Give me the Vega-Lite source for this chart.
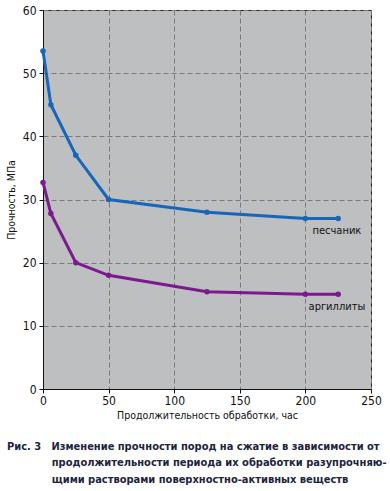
{
  "$schema": "https://vega.github.io/schema/vega-lite/v6.json",
  "width": 328,
  "height": 379,
  "autosize": {"type": "none"},
  "padding": {"left": 43, "top": 10, "right": 19, "bottom": 102},
  "background": "white",
  "config": {
    "view": {"fill": "#bebfc1", "stroke": "#222222", "strokeWidth": 1},
    "font": "DejaVu Sans Condensed",
    "axis": {
      "labelFont": "DejaVu Sans Condensed",
      "titleFont": "DejaVu Sans Condensed",
      "labelFontSize": 12,
      "titleFontSize": 10.5,
      "labelColor": "#111111",
      "titleColor": "#111111",
      "titleFontWeight": "normal",
      "domainColor": "#111111",
      "tickColor": "#111111",
      "tickSize": 4,
      "gridColor": "#7a7a7a",
      "gridDash": [5, 3],
      "gridWidth": 1
    }
  },
  "title": {
    "text": [
      "Рис. 3\u00a0\u00a0\u00a0Изменение прочности пород на сжатие в зависимости от",
      "\u200b\u00a0\u00a0\u00a0\u00a0\u00a0\u00a0\u00a0\u00a0\u00a0\u00a0\u00a0\u00a0\u00a0продолжительности периода их обработки разупрочняю-",
      "\u200b\u00a0\u00a0\u00a0\u00a0\u00a0\u00a0\u00a0\u00a0\u00a0\u00a0\u00a0\u00a0\u00a0щими растворами поверхностно-активных веществ"
    ],
    "orient": "bottom",
    "anchor": "start",
    "frame": "group",
    "dx": -36,
    "offset": 20,
    "font": "DejaVu Sans Condensed",
    "fontSize": 11,
    "fontWeight": "bold",
    "color": "#1c2440",
    "lineHeight": 16.5
  },
  "datasets": {
    "series": [
      {"t": 0, "v": 53.5, "rock": "песчаник"},
      {"t": 6, "v": 45, "rock": "песчаник"},
      {"t": 25, "v": 37, "rock": "песчаник"},
      {"t": 50, "v": 30, "rock": "песчаник"},
      {"t": 125, "v": 28, "rock": "песчаник"},
      {"t": 200, "v": 27, "rock": "песчаник"},
      {"t": 225, "v": 27, "rock": "песчаник"},
      {"t": 0, "v": 32.7, "rock": "аргиллиты"},
      {"t": 6, "v": 27.8, "rock": "аргиллиты"},
      {"t": 25, "v": 20, "rock": "аргиллиты"},
      {"t": 50, "v": 18, "rock": "аргиллиты"},
      {"t": 125, "v": 15.4, "rock": "аргиллиты"},
      {"t": 200, "v": 15, "rock": "аргиллиты"},
      {"t": 225, "v": 15, "rock": "аргиллиты"}
    ],
    "labels": [
      {"t": 224, "v": 25, "label": "песчаник"},
      {"t": 224, "v": 13, "label": "аргиллиты"}
    ]
  },
  "layer": [
    {
      "data": {"name": "series"},
      "mark": {"type": "line", "strokeWidth": 3, "point": {"filled": true, "size": 30}},
      "encoding": {
        "x": {
          "field": "t",
          "type": "quantitative",
          "scale": {"domain": [0, 250], "nice": false, "zero": false},
          "axis": {
            "values": [0, 25, 50, 75, 100, 125, 150, 175, 200, 225, 250],
            "labelExpr": "datum.value % 50 === 0 ? datum.label : ''",
            "gridOpacity": {"condition": {"test": "datum.value % 50 === 0", "value": 1}, "value": 0},
            "title": "Продолжительность обработки, час",
            "labelPadding": 2,
            "titlePadding": 4,
            "labelFlush": false
          }
        },
        "y": {
          "field": "v",
          "type": "quantitative",
          "scale": {"domain": [0, 60], "nice": false},
          "axis": {
            "values": [0, 5, 10, 15, 20, 25, 30, 35, 40, 45, 50, 55, 60],
            "labelExpr": "datum.value % 10 === 0 ? datum.label : ''",
            "gridOpacity": {"condition": {"test": "datum.value % 10 === 0", "value": 1}, "value": 0},
            "title": "Прочность, МПа",
            "labelPadding": 3,
            "titlePadding": 6,
            "labelFlush": false
          }
        },
        "color": {
          "field": "rock",
          "type": "nominal",
          "scale": {"domain": ["песчаник", "аргиллиты"], "range": ["#1766b8", "#7b1a8c"]},
          "legend": null
        }
      }
    },
    {
      "data": {"name": "labels"},
      "mark": {"type": "text", "font": "DejaVu Sans Condensed", "fontSize": 11, "color": "#111111", "align": "center", "baseline": "middle"},
      "encoding": {
        "x": {"field": "t", "type": "quantitative"},
        "y": {"field": "v", "type": "quantitative"},
        "text": {"field": "label"}
      }
    }
  ]
}
